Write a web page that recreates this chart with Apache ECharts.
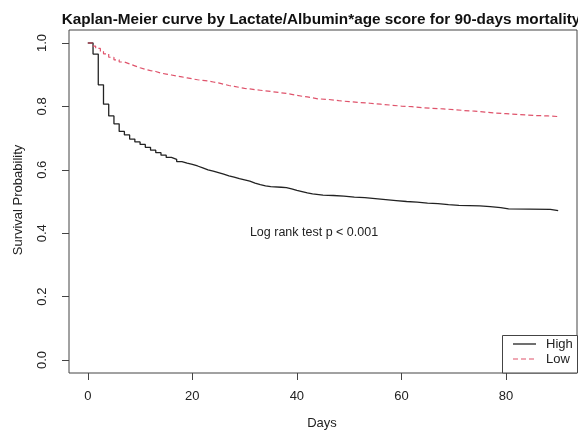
<!DOCTYPE html>
<html>
<head>
<meta charset="utf-8">
<script src="https://cdn.jsdelivr.net/npm/echarts@6/dist/echarts.min.js"></script>
<style>
  html, body { margin: 0; padding: 0; background: #fff; }
  #km { width: 578px; height: 432px; }
</style>
</head>
<body>
<div id="km"></div>
<script>
// survival data (days / probability)
var highDays = [0, 1, 2, 3, 4, 5, 6, 7, 8, 9, 10, 11, 12, 13, 14, 15, 16, 17, 18, 19, 20,
  21, 22, 23, 24, 25, 26, 27, 28, 29, 30, 31, 32, 33, 34, 35, 37, 38, 39, 40, 41, 42, 43,
  45, 47, 49, 51, 53, 55, 57, 59, 61, 63, 65, 67, 69, 71, 73, 75, 77, 79, 80.5, 88.5, 90]
var highSurv = [1.0, 0.965, 0.868, 0.807, 0.770, 0.745, 0.721, 0.710, 0.697, 0.688, 0.680,
  0.671, 0.662, 0.654, 0.646, 0.639, 0.633, 0.626, 0.621, 0.617, 0.612,
  0.606, 0.600, 0.596, 0.591, 0.586, 0.581, 0.577, 0.572, 0.568, 0.564, 0.558, 0.553, 0.549,
  0.547, 0.545, 0.544, 0.540, 0.535, 0.531, 0.527, 0.524, 0.520,
  0.519, 0.517, 0.514, 0.512, 0.509, 0.506, 0.503, 0.500, 0.498, 0.495, 0.493, 0.490, 0.488,
  0.487, 0.486, 0.484, 0.481, 0.477, 0.475, 0.471, 0.471]

var lowDays = [0, 1, 1.5, 2.4, 3, 4, 5, 6, 7, 8, 9, 10, 11, 12, 13, 14, 15, 16, 17, 18, 19, 20,
  21, 22, 23, 24, 25, 26, 27, 28, 29, 30, 31, 32, 33, 34, 35, 36, 37, 38, 39, 40, 41, 42, 43, 44,
  46, 48, 50, 52, 54, 56, 58, 60, 62, 64, 66, 68, 70, 72, 74, 76, 78, 80, 82, 84, 86, 88, 90]
var lowSurv = [1.0, 0.990, 0.983, 0.973, 0.966, 0.955, 0.947, 0.940, 0.934, 0.928, 0.922, 0.917,
  0.913, 0.910, 0.905, 0.902, 0.899, 0.896, 0.893, 0.890, 0.887, 0.884,
  0.882, 0.880, 0.877, 0.874, 0.870, 0.866, 0.863, 0.860, 0.857, 0.855, 0.853, 0.851, 0.849,
  0.847, 0.845, 0.843, 0.841, 0.838, 0.835, 0.832, 0.830, 0.827, 0.824, 0.822,
  0.818, 0.815, 0.812, 0.810, 0.807, 0.804, 0.801, 0.799, 0.796, 0.794, 0.792, 0.790, 0.787,
  0.785, 0.782, 0.779, 0.777, 0.775, 0.773, 0.771, 0.770, 0.768, 0.766]

var xTicks = [0, 20, 40, 60, 80]
var yTicks = [0, 0.2, 0.4, 0.6, 0.8, 1.0]

var txt = '#222'
var font = 'Liberation Sans, Arial, sans-serif'

function pairs (xs, ys) {
  return xs.map(function (x, i) { return [x, ys[i]] })
}

var myChart = echarts.init(document.getElementById('km'))

myChart.setOption({
  animation: false,
  backgroundColor: '#fff',
  textStyle: { fontFamily: font },
  title: {
    text: 'Kaplan-Meier curve by Lactate/Albumin*age score for 90-days mortality',
    left: 316,
    top: 7,
    textAlign: 'center',
    textStyle: { fontSize: 15.3, fontWeight: 'bold', color: '#111', fontFamily: font }
  },
  grid: {
    left: 69, right: 1, top: 30, bottom: 59,
    show: true, borderColor: '#444', borderWidth: 1
  },
  xAxis: {
    type: 'value',
    min: -3.6,
    max: 93.6,
    splitLine: { show: false },
    axisLine: { show: false, onZero: false },
    axisTick: { show: true, inside: false, length: 7, customValues: xTicks, lineStyle: { color: '#444' } },
    axisLabel: { customValues: xTicks, margin: 17, fontSize: 13, color: txt, fontFamily: font }
  },
  yAxis: {
    type: 'value',
    min: -0.041,
    max: 1.041,
    splitLine: { show: false },
    axisLine: { show: false, onZero: false },
    axisTick: { show: true, inside: false, length: 7, customValues: yTicks, lineStyle: { color: '#444' } },
    axisLabel: {
      customValues: yTicks,
      rotate: 90,
      margin: 20,
      fontSize: 13,
      color: txt,
      fontFamily: font,
      formatter: function (v) { return v.toFixed(1) }
    }
  },
  series: [
    {
      name: 'High',
      type: 'line',
      step: 'end',
      symbol: 'none',
      lineStyle: { color: '#222', width: 1.3 },
      data: pairs(highDays, highSurv)
    },
    {
      name: 'Low',
      type: 'line',
      step: 'end',
      symbol: 'none',
      lineStyle: { color: '#DF536B', width: 1.2, type: [5, 3] },
      data: pairs(lowDays, lowSurv)
    }
  ],
  graphic: [
    // axis titles
    { type: 'text', x: 18, y: 200, rotation: Math.PI / 2,
      style: { text: 'Survival Probability', fontSize: 13, fill: txt, fontFamily: font, align: 'center', verticalAlign: 'middle' } },
    { type: 'text', x: 322, y: 423,
      style: { text: 'Days', fontSize: 13, fill: txt, fontFamily: font, align: 'center', verticalAlign: 'middle' } },
    // log-rank note
    { type: 'text', x: 314, y: 233,
      style: { text: 'Log rank test p < 0.001', fontSize: 12.5, fill: txt, fontFamily: font, align: 'center', verticalAlign: 'middle' } },
    // legend box
    { type: 'rect', shape: { x: 502.5, y: 335.5, width: 75, height: 37.5 },
      style: { fill: '#fff', stroke: '#444', lineWidth: 1 }, z: 100 },
    { type: 'line', shape: { x1: 513, y1: 344, x2: 536, y2: 344 },
      style: { stroke: '#222', lineWidth: 1.3 }, z: 101 },
    { type: 'line', shape: { x1: 513, y1: 359, x2: 536, y2: 359 },
      style: { stroke: '#DF536B', lineWidth: 1.2, lineDash: [5, 3] }, z: 101 },
    { type: 'text', x: 546, y: 344, z: 101,
      style: { text: 'High', fontSize: 13, fill: txt, fontFamily: font, verticalAlign: 'middle' } },
    { type: 'text', x: 546, y: 359, z: 101,
      style: { text: 'Low', fontSize: 13, fill: txt, fontFamily: font, verticalAlign: 'middle' } }
  ]
})
</script>
</body>
</html>
